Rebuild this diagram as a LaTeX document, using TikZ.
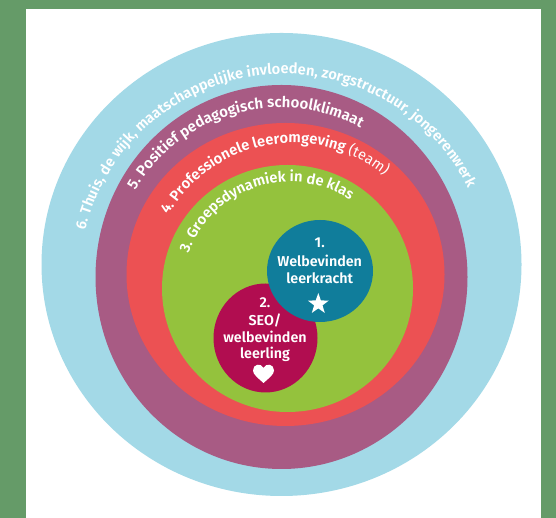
\documentclass[tikz,border=0pt]{standalone}
\usepackage{fontspec}
\setmainfont[BoldFont={Fira Sans SemiBold}]{Fira Sans}
\usetikzlibrary{decorations.text,shapes.geometric}
\definecolor{bggreen}{HTML}{659B68}
\definecolor{ringblue}{HTML}{A3D9E7}
\definecolor{ringpurple}{HTML}{A85B84}
\definecolor{ringred}{HTML}{EC5153}
\definecolor{ringgreen}{HTML}{94C23D}
\definecolor{teal1}{HTML}{107D9B}
\definecolor{magenta2}{HTML}{B10D50}
\tikzset{
  x=1pt,y=1pt,
  blobtext/.style={text=white,font=\fontsize{14.3}{14.3}\selectfont\bfseries,inner sep=0pt,anchor=center},
  ringtext/.style={decorate,decoration={text along path,text color=white,text={#1}}}
}
\newcommand{\ringfont}{\fontsize{14.7}{14.7}\selectfont\bfseries}
\begin{document}
\begin{tikzpicture}
\useasboundingbox (0,0) rectangle (556,518);
\fill[bggreen] (0,0) rectangle (556,518);
\fill[white] (26,0) rectangle (541,509);
\fill[ringblue] (281.5,253.5) ellipse [x radius=240pt,y radius=231.5pt];
\fill[ringpurple] (281.5,241) ellipse [x radius=186pt,y radius=192pt];
\fill[ringred] (285.5,243.5) ellipse [x radius=159pt,y radius=151.5pt];
\fill[ringgreen] (287.5,229.5) ellipse [x radius=125.5pt,y radius=123.5pt];
\fill[magenta2] (265.5,180) ellipse [x radius=52pt,y radius=54.5pt];
\fill[teal1] (320,247) ellipse [x radius=53pt,y radius=51pt];
\coordinate (c6) at (284.2,239);
\coordinate (c5) at (280,242.5);
\coordinate (c4) at (293,231);
\coordinate (c3) at (290,228);
\path[ringtext={|\ringfont|6. Thuis, de wijk, maatschappelijke invloeden, zorgstructuur, jongerenwerk}] (c6) ++(166.2:205pt) arc[start angle=166.2,end angle=15,radius=205pt];
\path[ringtext={|\fontsize{15}{15}\selectfont\bfseries|5. Positief pedagogisch schoolklimaat}] (c5) ++(149.5:168pt) arc[start angle=149.5,end angle=45,radius=168pt];
\path[ringtext={|\ringfont|4. Professionele leeromgeving |\fontsize{14.7}{14.7}\selectfont\mdseries|(team)}] (c4) ++(150:144pt) arc[start angle=150,end angle=35,radius=144pt];
\path[ringtext={|\ringfont|3. Groepsdynamiek in de klas}] (c3) ++(160:108pt) arc[start angle=160,end angle=40,radius=108pt];
\node[blobtext] (t1a) at (319.7,275.3) {1.};
\node[blobtext] (t1b) at (319.7,257.3) {Welbevinden};
\node[blobtext] (t1c) at (319.7,240) {leerkracht};
\node[star,star points=5,star point ratio=2.5,fill=white,draw=none,minimum size=22pt,inner sep=0pt] (star1) at (318.3,214) {};
\node[blobtext] (t2a) at (265,215.3) {2.};
\node[blobtext] (t2b) at (265,198) {SEO/};
\node[blobtext] (t2c) at (265,181) {welbevinden};
\node[blobtext] (t2d) at (265,164) {leerling};
\fill[white] (263.5,135) .. controls (258,140) and (253,143.5) .. (253,147.5) .. controls (253,154) and (261,155.5) .. (263.5,150) .. controls (266,155.5) and (274,154) .. (274,147.5) .. controls (274,143.5) and (269,140) .. (263.5,135) -- cycle;
\end{tikzpicture}
\end{document}
